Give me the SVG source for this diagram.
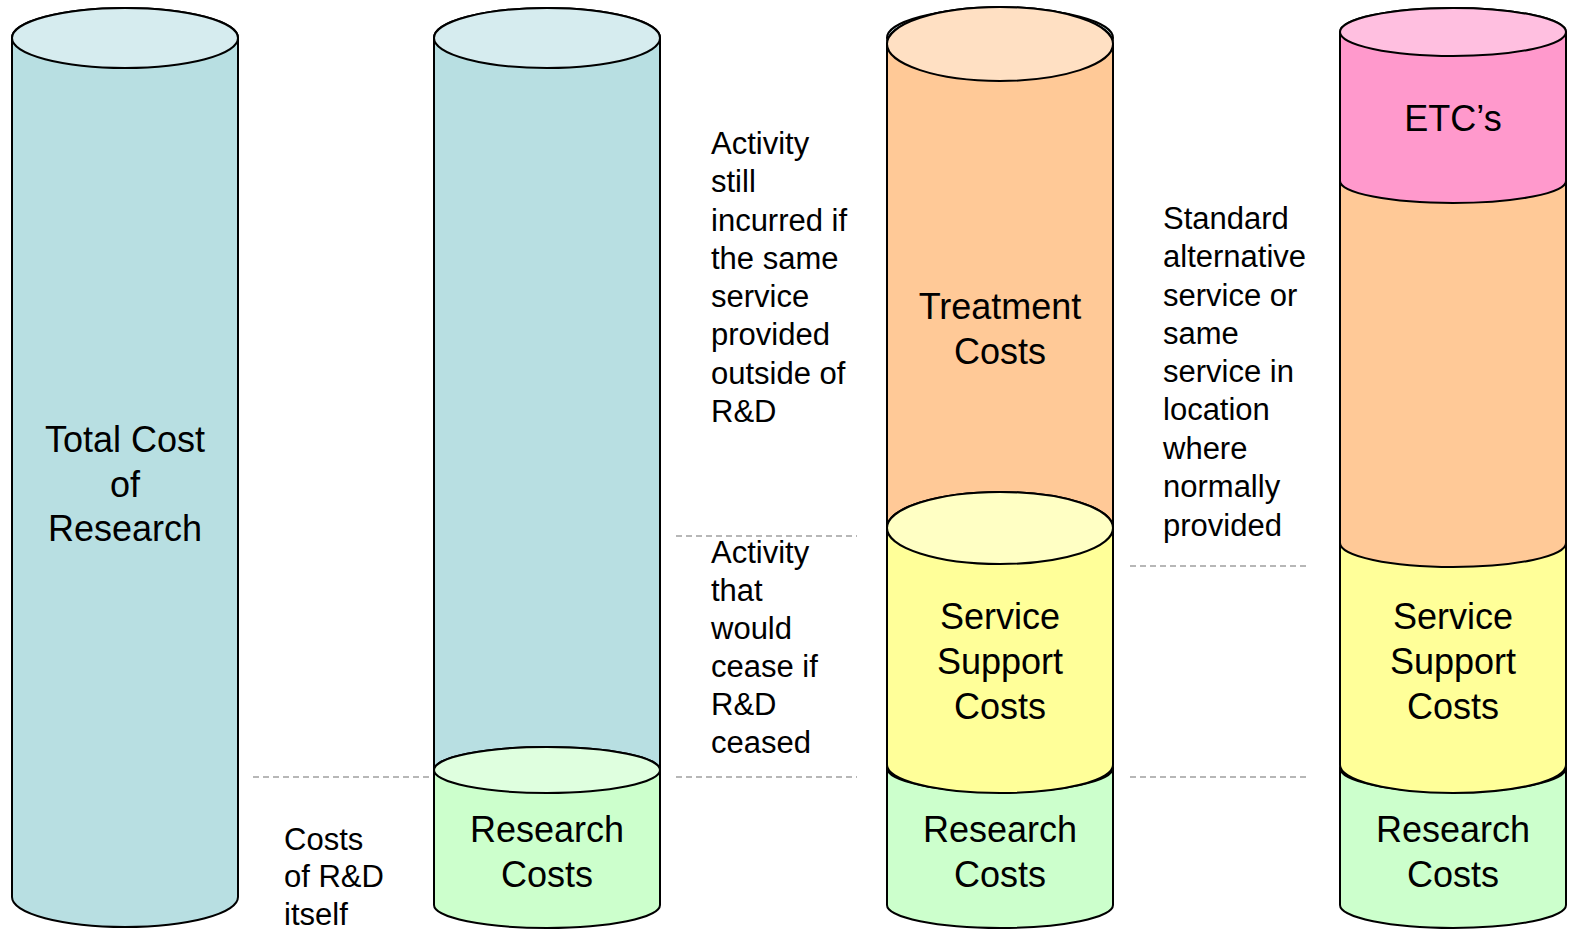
<svg xmlns="http://www.w3.org/2000/svg" width="1571" height="929" viewBox="0 0 1571 929">
<style>
.s{stroke:#000;stroke-width:2;stroke-linejoin:round}
.bb{fill:#B8DFE2}.bt{fill:#D6ECEF}
.gb{fill:#CCFFCC}.gt{fill:#DFFFDF}
.ob{fill:#FFC997}.ot{fill:#FFE0C3}
.yb{fill:#FFFF99}.yt{fill:#FFFFC4}
.pb{fill:#FF99CC}.pt{fill:#FFBFE0}
.lbl{font-family:"Liberation Sans",Arial,sans-serif;font-size:36px;fill:#000;text-anchor:middle}
.side{font-family:"Liberation Sans",Arial,sans-serif;font-size:31px;fill:#000}
.dash{stroke:#A0A0A0;stroke-width:1.5;stroke-dasharray:6 4;fill:none}
</style>
<rect width="1571" height="929" fill="#fff"/>
<g id="guides">
<line class="dash" x1="253" y1="777" x2="434" y2="777"/>
<line class="dash" x1="676" y1="777" x2="857" y2="777"/>
<line class="dash" x1="676" y1="536" x2="857" y2="536"/>
<line class="dash" x1="1130" y1="566" x2="1310" y2="566"/>
<line class="dash" x1="1130" y1="777" x2="1310" y2="777"/>
</g>
<g id="cyl1">
<path class="s bb" d="M12,38 L12,897 A113,30 0 0 0 238,897 L238,38 A113,30 0 0 0 12,38 Z"/>
<ellipse class="s bt" cx="125" cy="38" rx="113" ry="30"/>
<text class="lbl"><tspan x="125" y="452">Total Cost</tspan><tspan x="125" y="497">of</tspan><tspan x="125" y="541">Research</tspan></text>
</g>
<g id="cyl2-upper">
<path class="s bb" d="M434,38 L434,770 A113,23 0 0 0 660,770 L660,38 A113,30 0 0 0 434,38 Z"/>
<ellipse class="s bt" cx="547" cy="38" rx="113" ry="30"/>
</g>
<g id="cyl2-research">
<path class="s gb" d="M434,770 L434,905 A113,23 0 0 0 660,905 L660,770 A113,23 0 0 0 434,770 Z"/>
<ellipse class="s gt" cx="547" cy="770" rx="113" ry="23"/>
<text class="lbl"><tspan x="547" y="842">Research</tspan><tspan x="547" y="887">Costs</tspan></text>
</g>
<g id="cyl3-research">
<path class="s gb" d="M887,768 L887,905 A113,23 0 0 0 1113,905 L1113,768 A113,24 0 0 0 887,768 Z"/>
<ellipse class="s gt" cx="1000" cy="768" rx="113" ry="24"/>
<text class="lbl"><tspan x="1000" y="842">Research</tspan><tspan x="1000" y="887">Costs</tspan></text>
</g>
<g id="cyl3-treatment">
<ellipse class="s bt" cx="1000" cy="38" rx="113" ry="30"/>
<path class="s ob" d="M887,44 L887,528 A113,36 0 0 0 1113,528 L1113,44 A113,37 0 0 0 887,44 Z"/>
<ellipse class="s ot" cx="1000" cy="44" rx="113" ry="37"/>
<text class="lbl"><tspan x="1000" y="319">Treatment</tspan><tspan x="1000" y="364">Costs</tspan></text>
</g>
<g id="cyl3-support">
<path class="s yb" d="M887,528 L887,765 A113,28 0 0 0 1113,765 L1113,528 A113,36 0 0 0 887,528 Z"/>
<ellipse class="s yt" cx="1000" cy="528" rx="113" ry="36"/>
<text class="lbl"><tspan x="1000" y="629">Service</tspan><tspan x="1000" y="674">Support</tspan><tspan x="1000" y="719">Costs</tspan></text>
</g>
<g id="cyl4-research">
<path class="s gb" d="M1340,768 L1340,905 A113,23 0 0 0 1566,905 L1566,768 A113,24 0 0 0 1340,768 Z"/>
<ellipse class="s gt" cx="1453" cy="768" rx="113" ry="24"/>
<text class="lbl"><tspan x="1453" y="842">Research</tspan><tspan x="1453" y="887">Costs</tspan></text>
</g>
<g id="cyl4-support">
<path class="s yb" d="M1340,543 L1340,765 A113,28 0 0 0 1566,765 L1566,543 A113,24 0 0 0 1340,543 Z"/>
<text class="lbl"><tspan x="1453" y="629">Service</tspan><tspan x="1453" y="674">Support</tspan><tspan x="1453" y="719">Costs</tspan></text>
</g>
<g id="cyl4-treatment">
<path class="s ob" d="M1340,181 L1340,543 A113,24 0 0 0 1566,543 L1566,181 A113,22 0 0 0 1340,181 Z"/>
</g>
<g id="cyl4-etc">
<path class="s pb" d="M1340,32 L1340,181 A113,22 0 0 0 1566,181 L1566,32 A113,24 0 0 0 1340,32 Z"/>
<ellipse class="s pt" cx="1453" cy="32" rx="113" ry="24"/>
<text class="lbl" x="1453" y="131">ETC’s</text>
</g>
<g id="note-outside">
<text class="side"><tspan x="711" y="154">Activity</tspan><tspan x="711" y="192">still</tspan><tspan x="711" y="231">incurred if</tspan><tspan x="711" y="269">the same</tspan><tspan x="711" y="307">service</tspan><tspan x="711" y="345">provided</tspan><tspan x="711" y="384">outside of</tspan><tspan x="711" y="422">R&amp;D</tspan></text>
</g>
<g id="note-cease">
<text class="side"><tspan x="711" y="563">Activity</tspan><tspan x="711" y="601">that</tspan><tspan x="711" y="639">would</tspan><tspan x="711" y="677">cease if</tspan><tspan x="711" y="715">R&amp;D</tspan><tspan x="711" y="753">ceased</tspan></text>
</g>
<g id="note-standard">
<text class="side"><tspan x="1163" y="229">Standard</tspan><tspan x="1163" y="267">alternative</tspan><tspan x="1163" y="306">service or</tspan><tspan x="1163" y="344">same</tspan><tspan x="1163" y="382">service in</tspan><tspan x="1163" y="420">location</tspan><tspan x="1163" y="459">where</tspan><tspan x="1163" y="497">normally</tspan><tspan x="1163" y="536">provided</tspan></text>
</g>
<g id="note-rd">
<text class="side"><tspan x="284" y="850">Costs</tspan><tspan x="284" y="887">of R&amp;D</tspan><tspan x="284" y="925">itself</tspan></text>
</g>
</svg>
